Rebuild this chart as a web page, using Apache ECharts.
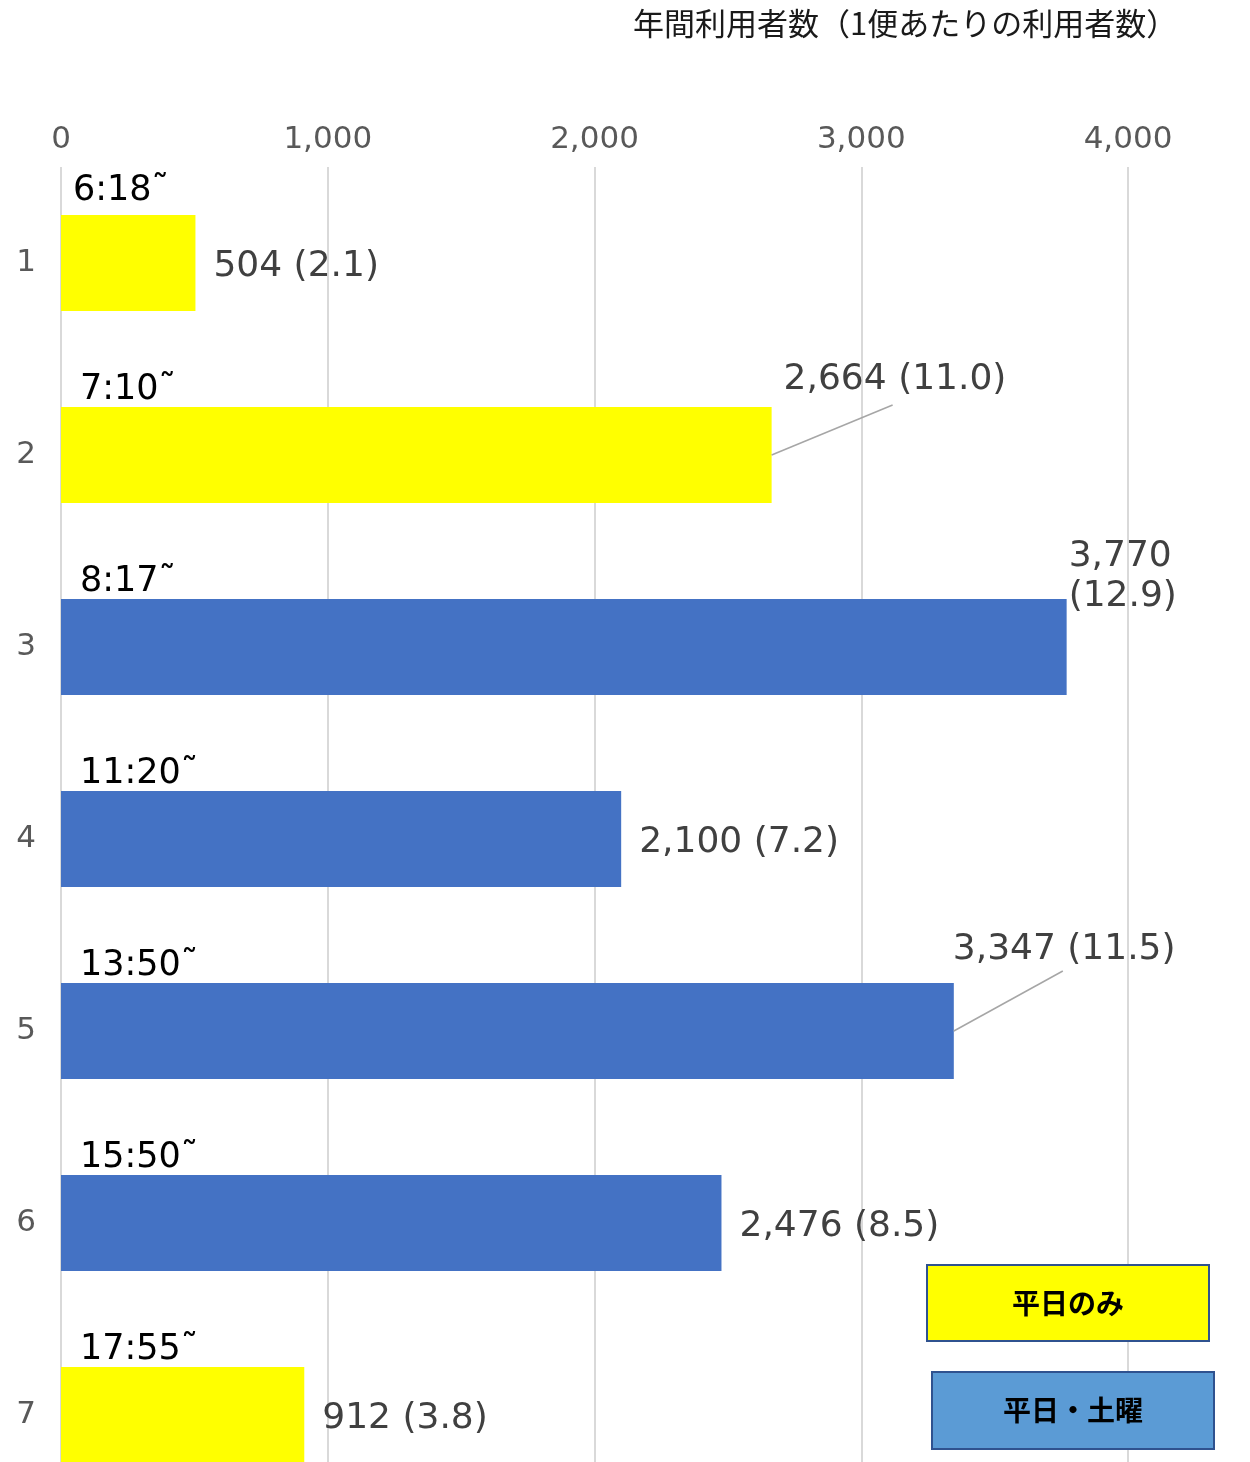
<!DOCTYPE html>
<html>
<head>
<meta charset="utf-8">
<script src="https://cdn.jsdelivr.net/npm/echarts@6/dist/echarts.min.js"></script>
<style>html,body{margin:0;padding:0;background:#fff;}#c{width:1250px;height:1462px;}</style>
</head>
<body>
<div id="c"></div>
<script>
const categories = ['1', '2', '3', '4', '5', '6', '7'];
const departTimes = ['6:18˜', '7:10˜', '8:17˜', '11:20˜', '13:50˜', '15:50˜', '17:55˜'];
const annualUsers = [504, 2664, 3770, 2100, 3347, 2476, 912];
const usersPerTrip = [2.1, 11.0, 12.9, 7.2, 11.5, 8.5, 3.8];
const serviceType = ['weekday', 'weekday', 'all', 'all', 'all', 'all', 'weekday'];
const xTickMax = 4000;
const xTickStep = 1000;
const titleText = '年間利用者数（1便あたりの利用者数）';
const legendWeekday = '平日のみ';
const legendAll = '平日・土曜';

const colorOf = { weekday: '#FFFF00', all: '#4472C4' };
// label displacement (dx, dy)
const labelMoves = { 1: [-6, -79], 2: [-16, -74], 4: [-19, -85] };
const labelBaseShift = 4;
// leader line end offset from bar end (px)
const leaderEnds = { 1: [121, -50], 4: [109, -60] };
const twoLine = { 2: true };
// time label placement relative to bar top-left
const timePos = { 0: [12, -24] };
const timePosDefault = [19, -17];

const fmt = v => v.toLocaleString('en-US');
const FONT = 'DejaVu Sans';

const chart = echarts.init(document.getElementById('c'), null, { renderer: 'canvas' });

const mainData = annualUsers.map((v, i) => ({
  value: v,
  itemStyle: { color: colorOf[serviceType[i]] }
}));
const timeData = annualUsers.map((v, i) => ({
  value: v,
  label: { position: timePos[i] || timePosDefault }
}));

function legendBox(id, x, y, w, h, fill, text) {
  return [
    { type: 'rect', id: id + 'r', z: 100, shape: { x: x, y: y, width: w, height: h }, style: { fill: fill, stroke: '#2F528F', lineWidth: 2 } },
    { type: 'text', id: id + 't', z: 101, x: x + w / 2, y: y + h / 2, style: { text: text, fontSize: 28, fontWeight: 'bold', fontFamily: 'Noto Sans CJK JP', fill: '#000', align: 'center', verticalAlign: 'middle' } }
  ];
}

chart.setOption({
  animation: false,
  backgroundColor: '#fff',
  title: {
    text: titleText,
    left: 628, top: 3,
    textStyle: { fontFamily: 'Noto Sans CJK JP', fontSize: 31, fontWeight: 'normal', color: '#1a1a1a' }
  },
  grid: { left: 61, right: 1250 - 1128, top: 167, height: 1344, containLabel: false, outerBoundsMode: 'none' },
  xAxis: {
    type: 'value', position: 'top', min: 0, max: xTickMax, interval: xTickStep,
    axisLine: { show: false }, axisTick: { show: false },
    axisLabel: { color: '#595959', fontSize: 31, fontFamily: FONT, margin: 12, formatter: v => fmt(v) },
    splitLine: { show: true, lineStyle: { color: '#D9D9D9', width: 2 } }
  },
  yAxis: {
    type: 'category', inverse: true, data: categories,
    axisLine: { show: false }, axisTick: { show: false },
    axisLabel: { color: '#595959', fontSize: 31, fontFamily: FONT, margin: 25 }
  },
  series: [
    {
      type: 'bar', name: 'time', silent: true, barWidth: '50%', barGap: '-100%', z: 1,
      data: timeData,
      itemStyle: { color: 'rgba(0,0,0,0)' },
      label: {
        show: true, align: 'left', verticalAlign: 'middle',
        color: '#000', fontSize: 35, fontFamily: FONT,
        formatter: p => departTimes[p.dataIndex]
      }
    },
    {
      type: 'bar', name: 'users', barWidth: '50%', barGap: '-100%', z: 2,
      data: mainData,
      label: {
        show: true, position: 'right', distance: 18,
        color: '#404040', fontSize: 36, fontFamily: FONT, lineHeight: 40,
        formatter: p => {
          const i = p.dataIndex;
          const sep = twoLine[i] ? '\n' : ' ';
          return fmt(annualUsers[i]) + sep + '(' + usersPerTrip[i].toFixed(1) + ')';
        }
      },
      labelLayout: function (params) {
        const m = labelMoves[params.dataIndex] || [0, 0];
        return { dx: m[0], dy: m[1] + labelBaseShift };
      }
    }
  ]
});

// leader lines, anchored at bar ends computed through the axes
const lines = Object.keys(leaderEnds).map(k => {
  const i = +k;
  const p = chart.convertToPixel({ gridIndex: 0 }, [annualUsers[i], i]);
  const e = leaderEnds[i];
  return {
    type: 'line', id: 'leader' + i, z: 50,
    shape: { x1: p[0], y1: p[1], x2: p[0] + e[0], y2: p[1] + e[1] },
    style: { stroke: '#A6A6A6', lineWidth: 1.5 }
  };
});
chart.setOption({
  graphic: lines
    .concat(legendBox('lg1', 927, 1265, 282, 76, '#FFFF00', legendWeekday))
    .concat(legendBox('lg2', 932, 1372, 282, 77, '#5B9BD5', legendAll))
});
</script>
</body>
</html>
